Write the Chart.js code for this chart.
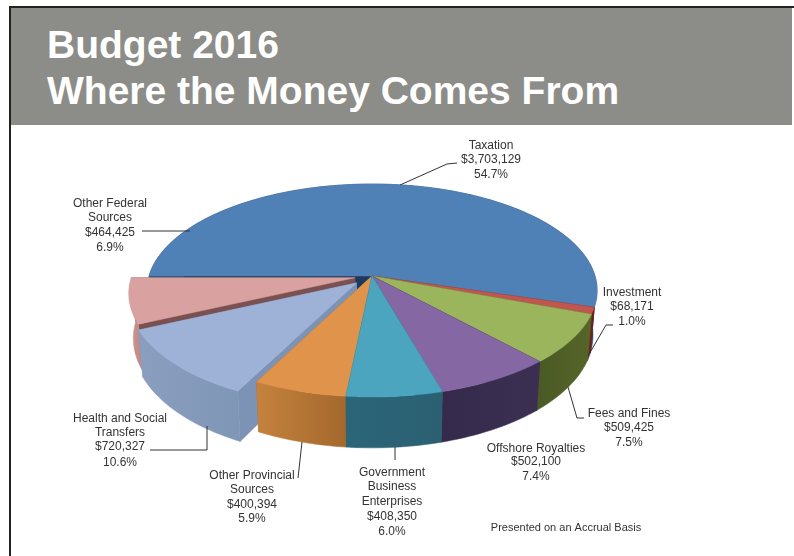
<!DOCTYPE html>
<html>
<head>
<meta charset="utf-8">
<title>Budget 2016</title>
<script src="https://cdn.jsdelivr.net/npm/chart.js@4/dist/chart.umd.min.js"></script>
<style>
    html, body { margin: 0; padding: 0; background: #fff; overflow: hidden; }
    #page { position: relative; width: 794px; height: 556px; }
    #frame { position: absolute; left: 9px; top: 6px; width: 783px; height: 560px; border: 1px solid #555; border-left: 2px solid #222; border-top: 2px solid #222; box-sizing: content-box; }
    #banner { position: absolute; left: 11px; top: 8px; width: 781px; height: 117px; background: #8c8c88; }
    #banner div { position: absolute; left: 36px; color: #fff; font: bold 39px "Liberation Sans", sans-serif; white-space: nowrap; }
    canvas { position: absolute; left: 0; top: 0; }
</style>
</head>
<body>
<div id="page">
    <div id="frame"></div>
    <div id="banner">
        <div style="top: 15px">Budget 2016</div>
        <div style="top: 61px">Where the Money Comes From</div>
    </div>
    <canvas id="budgetChart" width="794" height="556"></canvas>
</div>
<script>
const categories = ['Taxation', 'Investment', 'Fees and Fines', 'Offshore Royalties', 'Government Business Enterprises', 'Other Provincial Sources', 'Health and Social Transfers', 'Other Federal Sources'];
const revenue = [3703129, 68171, 509425, 502100, 408350, 400394, 720327, 464425];
const percentText = ['54.7%', '1.0%', '7.5%', '7.4%', '6.0%', '5.9%', '10.6%', '6.9%'];

const topColors = ['#4f80b6', '#c0564f', '#9bb55d', '#8567a4', '#4ba5bf', '#e0934a', '#9db2d6', '#d9a19f'];
const wallLeft = ['#2c4f78', '#6e1f1c', '#4a5a24', '#352a4c', '#2b6578', '#c4823d', '#8a9fbf', '#cc9791'];
const wallRight = ['#2c4f78', '#6e1f1c', '#56662a', '#3b2f52', '#2b6072', '#a4682d', '#8096b6', '#c08a85'];
const cutColors = ['#1c3a5e', '#6e1f1c', '#4a5a24', '#352a4c', '#2b6578', '#a4682d', '#7d93b5', '#7a5050'];
const sliceOffsets = [0, 0, 0, 0, 0, 0, 85, 70];

// back slices first, the slice nearest the viewer last
const paintOrder = [0, 7, 6, 5, 1, 2, 3, 4];

const labelLines = [
    ['Taxation'],
    ['Investment'],
    ['Fees and Fines'],
    ['Offshore Royalties'],
    ['Government', 'Business', 'Enterprises'],
    ['Other Provincial', 'Sources'],
    ['Health and Social', 'Transfers'],
    ['Other Federal', 'Sources']
];
const labelX = [491, 632, 629, 536, 392, 252, 120, 110];
const labelY = [
    [149, 163, 178],
    [296, 310, 325],
    [417, 431, 446],
    [452, 465, 480],
    [476, 490, 505, 520, 535],
    [479, 493, 508, 522],
    [422, 436, 450, 466],
    [207, 221, 236, 251]
];
const leaders = [
    [[400, 185], [447, 164], [457, 163]],
    [[613, 325], [606, 325], [588, 356]],
    [[568, 387], [577, 418], [584, 418]],
    [],
    [[395, 447], [395, 460]],
    [[302, 442], [298, 478]],
    [[207, 426], [207, 450], [150, 450]],
    [[142, 231], [190, 231]]
];

// perspective of the tilted disc: squash, foreshortening and thickness
const squash = 0.4686;
const foreshorten = 0.136;
const thickness = 44;
const baseShrink = 0.018;

function project(arc, u, v, z) {
    const w = 1 - foreshorten * v;
    const r = arc.outerRadius;
    return {
        x: arc.x + r * u / w * (1 - baseShrink * z),
        y: arc.y + (r * squash * v + thickness * z) / w
    };
}

function fillPath(ctx, pts, fill) {
    ctx.beginPath();
    pts.forEach((p, i) => i ? ctx.lineTo(p.x, p.y) : ctx.moveTo(p.x, p.y));
    ctx.closePath();
    ctx.fillStyle = fill;
    ctx.fill();
    ctx.strokeStyle = fill;
    ctx.lineWidth = 0.5;
    ctx.stroke();
}

function drawSlice(ctx, arc, i) {
    const start = arc.startAngle, end = arc.endAngle;
    const mid = (start + end) / 2;
    // same pull-out the arc element applies when it draws itself
    const pull = (arc.options.offset || 0) / 4 / arc.outerRadius;
    const ou = Math.cos(mid) * pull, ov = Math.sin(mid) * pull;
    const rim = (a, z) => project(arc, ou + Math.cos(a), ov + Math.sin(a), z);
    const apex = z => project(arc, ou, ov, z);

    fillPath(ctx, [apex(0), rim(start, 0), rim(start, 1), apex(1)], cutColors[i]);
    fillPath(ctx, [apex(0), rim(end, 0), rim(end, 1), apex(1)], cutColors[i]);

    const steps = Math.max(12, Math.ceil((end - start) * 40));
    const edgeTop = [], edgeBase = [], face = [apex(0)];
    for (let s = 0; s <= steps; s++) {
        const a = start + (end - start) * s / steps;
        edgeTop.push(rim(a, 0));
        edgeBase.unshift(rim(a, 1));
        face.push(rim(a, 0));
    }
    const xa = edgeTop[0].x, xb = edgeTop[steps].x;
    const grad = ctx.createLinearGradient(Math.min(xa, xb), 0, Math.max(xa, xb) + 1, 0);
    grad.addColorStop(0, wallLeft[i]);
    grad.addColorStop(1, wallRight[i]);
    fillPath(ctx, edgeTop.concat(edgeBase), grad);
    fillPath(ctx, face, arc.options.backgroundColor);
}

function drawLabels(ctx) {
    ctx.textAlign = 'center';
    ctx.textBaseline = 'alphabetic';
    ctx.fillStyle = '#333';
    ctx.font = '12px "Liberation Sans", sans-serif';
    categories.forEach((name, i) => {
        const lines = labelLines[i].concat(['$' + revenue[i].toLocaleString('en-US'), percentText[i]]);
        lines.forEach((line, n) => ctx.fillText(line, labelX[i], labelY[i][n]));
    });
    ctx.font = '11px "Liberation Sans", sans-serif';
    ctx.fillText('Presented on an Accrual Basis', 566, 531);

    ctx.strokeStyle = '#333';
    ctx.lineWidth = 1;
    leaders.forEach(path => {
        if (!path.length) return;
        ctx.beginPath();
        path.forEach((p, i) => i ? ctx.lineTo(p[0], p[1]) : ctx.moveTo(p[0], p[1]));
        ctx.stroke();
    });
}

const tiltedPie = {
    id: 'tiltedPie',
    beforeDatasetsDraw(chart) {
        const arcs = chart.getDatasetMeta(0).data;
        const ctx = chart.ctx;
        ctx.save();
        paintOrder.forEach(i => drawSlice(ctx, arcs[i], i));
        drawLabels(ctx);
        ctx.restore();
        return false;
    }
};

new Chart(document.getElementById('budgetChart').getContext('2d'), {
    type: 'pie',
    plugins: [tiltedPie],
    data: {
        labels: categories,
        datasets: [{
            data: revenue,
            backgroundColor: topColors,
            offset: sliceOffsets,
            borderWidth: 0
        }]
    },
    options: {
        responsive: false,
        animation: false,
        events: [],
        rotation: 270,
        radius: 223,
        layout: { padding: { left: 0, right: 50, top: 0, bottom: 4 } },
        plugins: {
            legend: { display: false },
            tooltip: { enabled: false }
        }
    }
});
</script>
</body>
</html>
